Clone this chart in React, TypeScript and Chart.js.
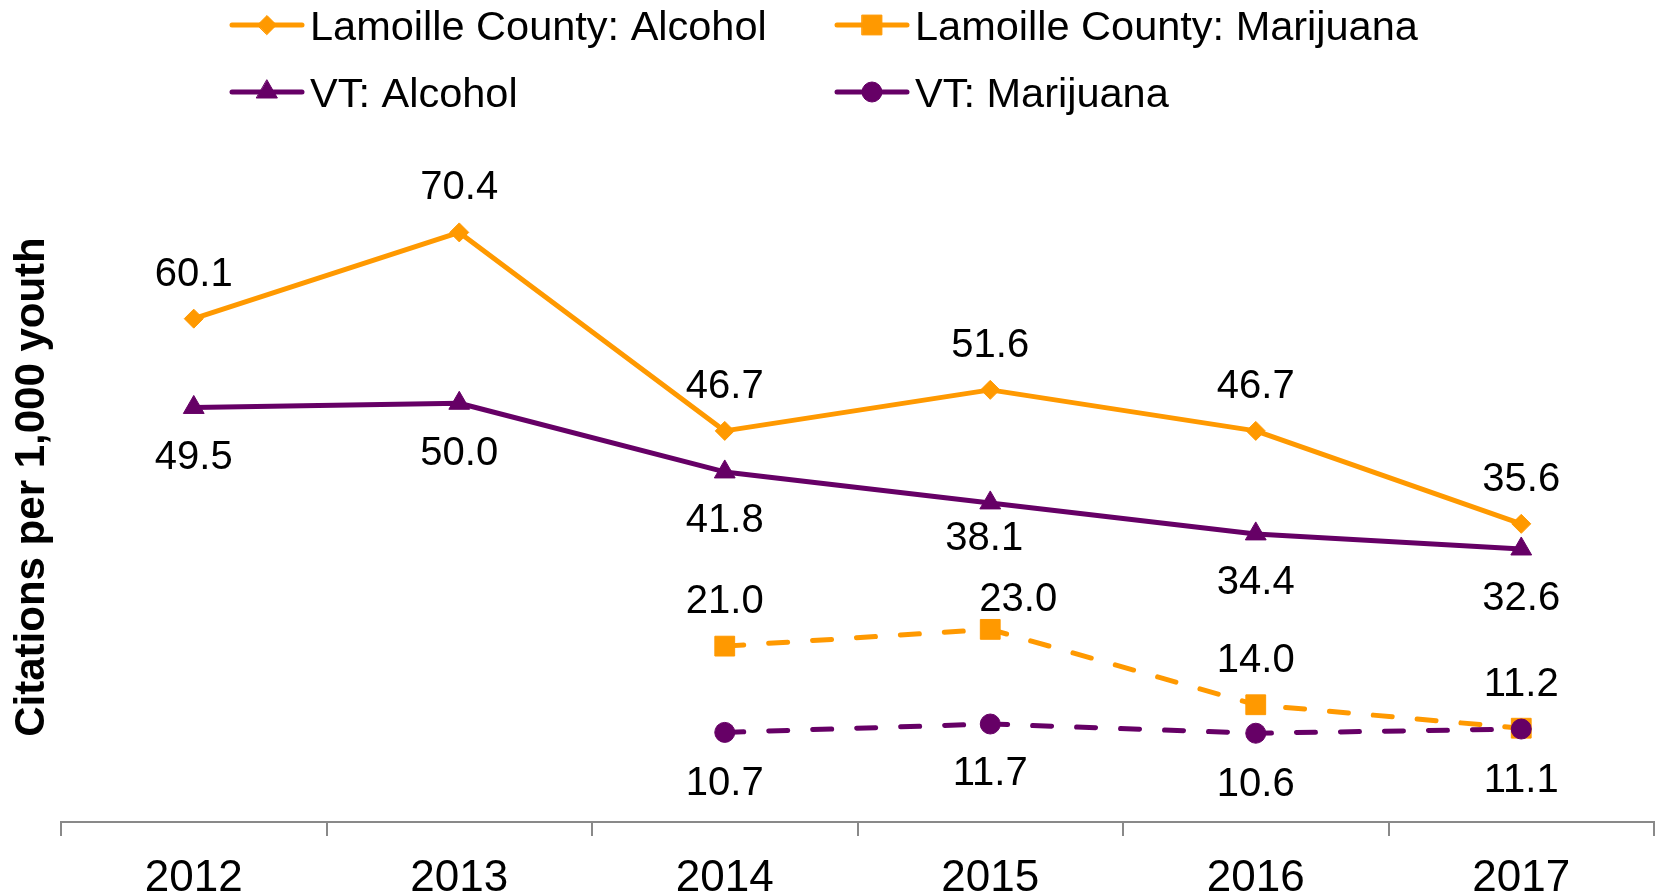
import React, { useEffect, useRef } from "react";
import { Chart, registerables } from "chart.js";
import { drawPoint } from "chart.js/helpers";

Chart.register(...registerables);

const years = ["2012", "2013", "2014", "2015", "2016", "2017"];
const lamoilleAlcohol = [60.1, 70.4, 46.7, 51.6, 46.7, 35.6];
const lamoilleMarijuana = [null, null, 21.0, 23.0, 14.0, 11.2];
const vtAlcohol = [49.5, 50.0, 41.8, 38.1, 34.4, 32.6];
const vtMarijuana = [null, null, 10.7, 11.7, 10.6, 11.1];
const seriesNames = [
  "Lamoille County: Alcohol",
  "Lamoille County: Marijuana",
  "VT: Alcohol",
  "VT: Marijuana",
];
const yAxisTitle = "Citations per 1,000 youth";

const ORANGE = "#FF9900";
const PURPLE = "#660066";
const FONT = "'Liberation Sans', Arial, sans-serif";

const W = 1657;
const H = 896;

// visual styles and value-label placement (pixel offsets from each point)
const styles = [
  { color: ORANGE, pointStyle: "rectRot", radius: 9.5, dash: [] as number[],
    dy: [-44, -44, -44, -44, -44, -44], dx: [0, 0, 0, 0, 0, 0] },
  { color: ORANGE, pointStyle: "rect", radius: 14, dash: [19, 25],
    dy: [0, 0, -44, -29, -44, -43], dx: [0, 0, 0, 28, 0, 0] },
  { color: PURPLE, pointStyle: "triangle", radius: 12, dash: [] as number[],
    dy: [51, 51, 49, 36, 49, 50], dx: [0, 0, 0, -6, 0, 0] },
  { color: PURPLE, pointStyle: "circle", radius: 10, dash: [19, 25],
    dy: [0, 0, 52, 50, 52, 52], dx: [0, 0, 0, 0, 0, 0] },
];

const legendPos = [
  { x0: 232, x1: 302, y: 25, ty: 29 },
  { x0: 837, x1: 907, y: 25, ty: 29 },
  { x0: 232, x1: 302, y: 92, ty: 96 },
  { x0: 837, x1: 907, y: 92, ty: 96 },
];

const labelsPlugin = {
  id: "valueLabels",
  afterDatasetsDraw(chart: any) {
    const ctx = chart.ctx;
    ctx.save();
    ctx.font = `40px ${FONT}`;
    ctx.fillStyle = "#000";
    ctx.textAlign = "center";
    ctx.textBaseline = "middle";
    chart.data.datasets.forEach((ds: any, di: number) => {
      const meta = chart.getDatasetMeta(di);
      meta.data.forEach((pt: any, i: number) => {
        const v = ds.data[i];
        if (v === null || v === undefined) return;
        ctx.fillText(v.toFixed(1), pt.x + styles[di].dx[i], pt.y + styles[di].dy[i]);
      });
    });
    ctx.restore();
  },
};

const legendPlugin = {
  id: "customLegend",
  afterDraw(chart: any) {
    const ctx = chart.ctx;
    ctx.save();
    seriesNames.forEach((name, i) => {
      const p = legendPos[i];
      const s = styles[i];
      ctx.strokeStyle = s.color;
      ctx.lineWidth = 5;
      ctx.lineCap = "round";
      ctx.setLineDash([]);
      ctx.beginPath();
      ctx.moveTo(p.x0, p.y);
      ctx.lineTo(p.x1, p.y);
      ctx.stroke();
      ctx.fillStyle = s.color;
      ctx.strokeStyle = s.color;
      ctx.lineWidth = 1;
      drawPoint(ctx, { pointStyle: s.pointStyle as any, radius: s.radius, rotation: 0, borderWidth: 1 }, (p.x0 + p.x1) / 2, p.y);
      ctx.fillStyle = "#000";
      ctx.font = `41.5px ${FONT}`;
      ctx.textAlign = "left";
      ctx.textBaseline = "middle";
      ctx.fillText(name, p.x1 + 8, p.ty);
    });
    // y axis title
    ctx.translate(32, 487);
    ctx.rotate(-Math.PI / 2);
    ctx.font = `bold 42px ${FONT}`;
    ctx.fillStyle = "#000";
    ctx.textAlign = "center";
    ctx.textBaseline = "middle";
    ctx.fillText(yAxisTitle, 0, 0);
    ctx.restore();
  },
};

export default function App() {
  const ref = useRef<HTMLCanvasElement | null>(null);
  useEffect(() => {
    if (!ref.current) return;
    const allData = [lamoilleAlcohol, lamoilleMarijuana, vtAlcohol, vtMarijuana];
    const orders = [4, 3, 2, 1];
    const chart = new Chart(ref.current, {
      type: "line",
      data: {
        labels: years,
        datasets: allData.map((d, i) => ({
          label: seriesNames[i],
          data: d,
          borderColor: styles[i].color,
          backgroundColor: styles[i].color,
          borderWidth: 5,
          borderDash: styles[i].dash,
          borderCapStyle: "round",
          borderJoinStyle: "round",
          pointStyle: styles[i].pointStyle as any,
          pointRadius: styles[i].radius,
          pointBackgroundColor: styles[i].color,
          pointBorderColor: styles[i].color,
          pointBorderWidth: 1,
          tension: 0,
          fill: false,
          clip: false,
          order: orders[i],
        })),
      },
      options: {
        responsive: false,
        animation: false,
        layout: { autoPadding: false, padding: { left: 61, right: 3, top: 152, bottom: 0 } },
        plugins: { legend: { display: false }, tooltip: { enabled: false }, title: { display: false } },
        scales: {
          x: {
            offset: true,
            grid: {
              display: true,
              offset: true,
              drawOnChartArea: false,
              drawTicks: true,
              tickLength: 14,
              color: "#898989",
              lineWidth: 2,
            },
            border: { display: true, color: "#898989", width: 2 },
            ticks: {
              color: "#000",
              font: { family: FONT, size: 44 },
              padding: 16,
              maxRotation: 0,
              autoSkip: false,
            },
            afterFit: (scale: any) => {
              scale.height = 74;
              scale.paddingLeft = 0;
              scale.paddingRight = 0;
            },
          },
          y: {
            display: false,
            min: 0,
            max: 80,
          },
        },
      },
      plugins: [labelsPlugin, legendPlugin],
    });
    return () => chart.destroy();
  }, []);
  return (
    <div style={{ position: "absolute", left: 0, top: 0, width: W, height: H }}>
      <canvas ref={ref} width={W} height={H} style={{ display: "block" }} />
    </div>
  );
}
